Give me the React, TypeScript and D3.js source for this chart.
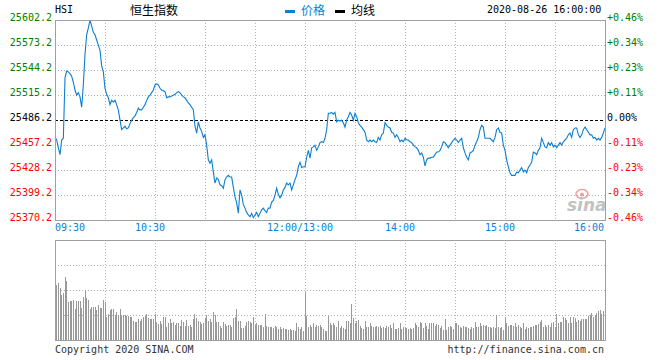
import React from "react";
import * as d3 from "d3";

const priceTickLabels = ["25602.2", "25573.2", "25544.2", "25515.2", "25486.2", "25457.2", "25428.2", "25399.2", "25370.2"];
const pctTickLabels = ["+0.46%", "+0.34%", "+0.23%", "+0.11%", "0.00%", "-0.11%", "-0.23%", "-0.34%", "-0.46%"];
const timeLabels = ["09:30", "10:30", "12:00/13:00", "14:00", "15:00", "16:00"];
const timeLabelIdx = [0, 60, 150, 210, 270, 330];
const gridIdx = [30, 60, 90, 120, 150, 180, 210, 240, 270, 300];
const prevClose = 25486.2;
const priceMin = 25370.2;
const priceMax = 25602.2;
const totalMinutes = 330;

const prices = [
  25466, 25463, 25454, 25446, 25463, 25465, 25535, 25543, 25542, 25540,
  25537, 25530, 25521, 25515, 25518, 25513, 25501, 25527, 25562, 25585,
  25593, 25602, 25595, 25588, 25585, 25579, 25573, 25567, 25549, 25542,
  25523, 25516, 25512, 25504, 25509, 25507, 25509, 25504, 25498, 25486,
  25475, 25477, 25479, 25476, 25477, 25482, 25486, 25489, 25491, 25495,
  25500, 25498, 25498, 25501, 25504, 25509, 25513, 25515, 25518, 25521,
  25527, 25528, 25527, 25523, 25521, 25520, 25519, 25512, 25513, 25513,
  25514, 25515, 25516, 25518, 25519, 25518, 25515, 25513, 25512, 25509,
  25506, 25504, 25501, 25498, 25479, 25471, 25484, 25477, 25473, 25466,
  25469, 25457, 25440, 25436, 25440, 25426, 25413, 25419, 25417, 25411,
  25410, 25407, 25417, 25420, 25422, 25420, 25420, 25408, 25397, 25390,
  25378, 25405, 25399, 25388, 25384, 25379, 25376, 25374, 25378, 25373,
  25376, 25379, 25374, 25378, 25382, 25384, 25381, 25379, 25384, 25384,
  25391, 25393, 25399, 25407, 25400, 25396, 25399, 25405, 25408, 25413,
  25411, 25413, 25405, 25411, 25417, 25422, 25432, 25437, 25431, 25432,
  25432, 25443, 25451, 25442, 25454, 25455, 25457, 25451, 25455, 25460,
  25461, 25460, 25465, 25475, 25494, 25494, 25495, 25493, 25495, 25484,
  25486, 25485, 25486, 25483, 25478, 25486, 25490, 25495, 25492, 25486,
  25494, 25490, 25483, 25480, 25478, 25475, 25472, 25463, 25461, 25463,
  25461, 25463, 25461, 25460, 25466, 25463, 25469, 25471, 25483, 25480,
  25478, 25477, 25472, 25471, 25466, 25469, 25466, 25461, 25463, 25461,
  25465, 25463, 25463, 25461, 25460, 25457, 25455, 25454, 25451, 25446,
  25448, 25443, 25433, 25440, 25442, 25442, 25443, 25443, 25446, 25449,
  25449, 25451, 25455, 25461, 25460, 25457, 25454, 25457, 25460, 25463,
  25465, 25463, 25460, 25463, 25465, 25454, 25448, 25443, 25440, 25448,
  25449, 25451, 25457, 25461, 25466, 25475, 25480, 25478, 25465, 25465,
  25465, 25465, 25463, 25461, 25466, 25475, 25477, 25472, 25471, 25457,
  25451, 25440, 25432, 25425, 25422, 25422, 25422, 25426, 25425, 25428,
  25431, 25426, 25428, 25425, 25431, 25434, 25437, 25449, 25448, 25446,
  25451, 25454, 25465, 25460, 25455, 25454, 25460, 25457, 25460, 25455,
  25457, 25454, 25457, 25460, 25457, 25461, 25463, 25465, 25469, 25471,
  25466, 25475, 25477, 25477, 25469, 25466, 25469, 25475, 25478, 25475,
  25472, 25469, 25469, 25465, 25466, 25463, 25465, 25463, 25466, 25471,
  25477,
];

const volumes = [
  58, 55, 57, 52, 45, 47, 63, 59, 38, 39,
  39, 40, 31, 39, 39, 39, 32, 43, 50, 42,
  40, 31, 33, 33, 33, 30, 35, 32, 32, 40,
  38, 23, 26, 30, 31, 31, 25, 28, 25, 31,
  25, 25, 25, 24, 24, 23, 23, 19, 18, 18,
  21, 19, 21, 23, 24, 26, 22, 21, 21, 21,
  26, 18, 16, 19, 16, 23, 23, 13, 17, 21,
  17, 18, 15, 17, 17, 14, 20, 18, 14, 20,
  14, 15, 13, 21, 26, 22, 19, 18, 16, 17,
  22, 25, 19, 21, 18, 28, 25, 18, 18, 14,
  12, 18, 16, 14, 15, 15, 13, 22, 23, 31,
  19, 19, 12, 12, 14, 18, 19, 18, 17, 23,
  15, 17, 15, 15, 15, 13, 26, 14, 13, 13,
  13, 12, 14, 13, 11, 13, 11, 12, 11, 11,
  10, 11, 10, 10, 9, 17, 13, 11, 13, 9,
  48, 24, 13, 15, 13, 17, 13, 15, 14, 15,
  13, 11, 9, 9, 24, 17, 15, 17, 15, 13,
  19, 12, 14, 12, 11, 19, 19, 17, 36, 22,
  17, 19, 20, 14, 12, 11, 19, 13, 13, 17,
  14, 13, 13, 14, 13, 14, 12, 13, 12, 14,
  13, 15, 12, 17, 11, 11, 12, 17, 11, 13,
  12, 12, 11, 12, 11, 12, 17, 15, 13, 18,
  17, 12, 17, 14, 11, 17, 17, 17, 14, 16,
  15, 12, 14, 10, 21, 10, 13, 14, 13, 11,
  17, 17, 15, 13, 12, 14, 13, 13, 12, 11,
  13, 12, 18, 13, 13, 17, 14, 15, 14, 15,
  13, 13, 12, 13, 12, 25, 13, 12, 13, 10,
  23, 17, 14, 15, 15, 14, 17, 13, 15, 13,
  12, 17, 11, 13, 12, 13, 13, 14, 15, 15,
  16, 18, 20, 13, 15, 13, 15, 13, 17, 18,
  13, 26, 17, 18, 18, 23, 22, 20, 17, 23,
  17, 23, 22, 18, 20, 19, 21, 21, 21, 21,
  24, 25, 27, 23, 25, 27, 29, 30, 26, 29,
  32,
];
const volumeMax = 100;

const MONO = "'DejaVu Sans Mono', 'Liberation Mono', monospace";
const CJK = "'Noto Sans CJK SC', 'Noto Sans', sans-serif";
const BLUE = "#0c7fd0";
const GRID = "#b4b4b4";
const BORDER = "#a0a0a0";

export default function App() {
  const left = 55, right = 605, top = 20, bottom = 220;
  const vTop = 240, vBottom = 340;

  const x = d3.scaleLinear().domain([0, totalMinutes]).range([left, right]);
  const y = d3.scaleLinear().domain([priceMin, priceMax]).range([bottom, top]);
  const yv = d3.scaleLinear().domain([0, volumeMax]).range([vBottom, vTop]);

  const tickVals = priceTickLabels.map((t) => parseFloat(t));
  const volGrid = [25, 50, 75];

  const line = d3
    .line<number>()
    .x((_, i) => x(i))
    .y((d) => y(d));

  const labelColor = (i: number) => (i < 4 ? "#008000" : i === 4 ? "#000000" : "#ff0000");

  return (
    <svg
      width={660}
      height={360}
      style={{ position: "absolute", left: 0, top: 0, background: "#fff" }}
      fontFamily={MONO}
    >
      <rect x={0} y={0} width={660} height={360} fill="#fff" />

      {/* header */}
      <text x={55} y={13} fontSize={10} fill="#000">HSI</text>
      <text x={130} y={14.5} fontSize={12} fontFamily={CJK} fill="#000">恒生指数</text>
      <rect x={285} y={10} width={10} height={3} fill={BLUE} />
      <text x={301} y={14.5} fontSize={12} fontFamily={CJK} fill={BLUE}>价格</text>
      <rect x={335} y={10} width={10} height={3} fill="#000" />
      <text x={351} y={14.5} fontSize={12} fontFamily={CJK} fill="#000">均线</text>
      <text x={487} y={13} fontSize={10} fill="#000">2020-08-26 16:00:00</text>

      {/* main grid */}
      <g shapeRendering="crispEdges">
        {tickVals.slice(1, -1).map((v, i) =>
          i + 1 === 4 ? null : (
            <line key={"h" + i} x1={left} x2={right} y1={Math.round(y(v)) + 0.5} y2={Math.round(y(v)) + 0.5}
              stroke={GRID} strokeDasharray="1,2" />
          )
        )}
        {gridIdx.map((m) => (
          <line key={"v" + m} x1={Math.round(x(m)) + 0.5} x2={Math.round(x(m)) + 0.5} y1={top} y2={bottom}
            stroke={GRID} strokeDasharray="1,2" />
        ))}
        <line x1={left} x2={right} y1={Math.round(y(prevClose)) + 0.5} y2={Math.round(y(prevClose)) + 0.5}
          stroke="#000" strokeDasharray="3,2" />
      </g>

      {/* sina watermark */}
      <g opacity={0.6}>
        <ellipse cx={582} cy={194} rx={6} ry={4.5} fill="none" stroke="#e06a6a" strokeWidth={1.6} />
        <circle cx={582} cy={194.5} r={2} fill="#e06a6a" />
        <text x={567} y={211} fontSize={17} fontFamily="'DejaVu Sans', sans-serif" fontStyle="italic" fontWeight="bold" fill="#9a9a9a">sina</text>
      </g>

      {/* price line */}
      <path d={line(prices) || ""} fill="none" stroke={BLUE} strokeWidth={1.1} />

      {/* main border */}
      <rect x={left + 0.5} y={top + 0.5} width={right - left} height={bottom - top} fill="none" stroke={BORDER}
        shapeRendering="crispEdges" />

      {/* axis labels */}
      {priceTickLabels.map((t, i) => (
        <text key={"pl" + i} x={52} y={y(tickVals[i]) + 0.5} fontSize={10} textAnchor="end" fill={labelColor(i)}>{t}</text>
      ))}
      {pctTickLabels.map((t, i) => (
        <text key={"pr" + i} x={607} y={y(tickVals[i]) + 0.5} fontSize={10} textAnchor="start" fill={labelColor(i)}>{t}</text>
      ))}
      {timeLabels.map((t, i) => {
        const idx = timeLabelIdx[i];
        const anchor = i === 0 ? "start" : i === timeLabels.length - 1 ? "end" : "middle";
        const px = i === 0 ? x(idx) : i === timeLabels.length - 1 ? x(idx) - 1 : x(idx) - 5;
        return (
          <text key={"t" + i} x={px} y={231} fontSize={10} textAnchor={anchor} fill={BLUE}>{t}</text>
        );
      })}

      {/* volume panel */}
      <g shapeRendering="crispEdges">
        {volGrid.map((v) => (
          <line key={"vg" + v} x1={left} x2={right} y1={Math.round(yv(v)) + 0.5} y2={Math.round(yv(v)) + 0.5}
            stroke={GRID} strokeDasharray="1,2" />
        ))}
        {gridIdx.map((m) => (
          <line key={"vv" + m} x1={Math.round(x(m)) + 0.5} x2={Math.round(x(m)) + 0.5} y1={vTop} y2={vBottom}
            stroke={GRID} strokeDasharray="1,2" />
        ))}
        {volumes.map((v, i) => (
          <rect key={"b" + i} x={Math.floor(x(i))} y={yv(v)} width={1} height={vBottom - yv(v)} fill="#999999" />
        ))}
        <rect x={left + 0.5} y={vTop + 0.5} width={right - left} height={vBottom - vTop} fill="none" stroke={BORDER} />
      </g>

      {/* footer */}
      <text x={55} y={353} fontSize={10} fill="#333">Copyright 2020 SINA.COM</text>
      <text x={604} y={353} fontSize={10} fill="#333" textAnchor="end">http://finance.sina.com.cn</text>
    </svg>
  );
}
